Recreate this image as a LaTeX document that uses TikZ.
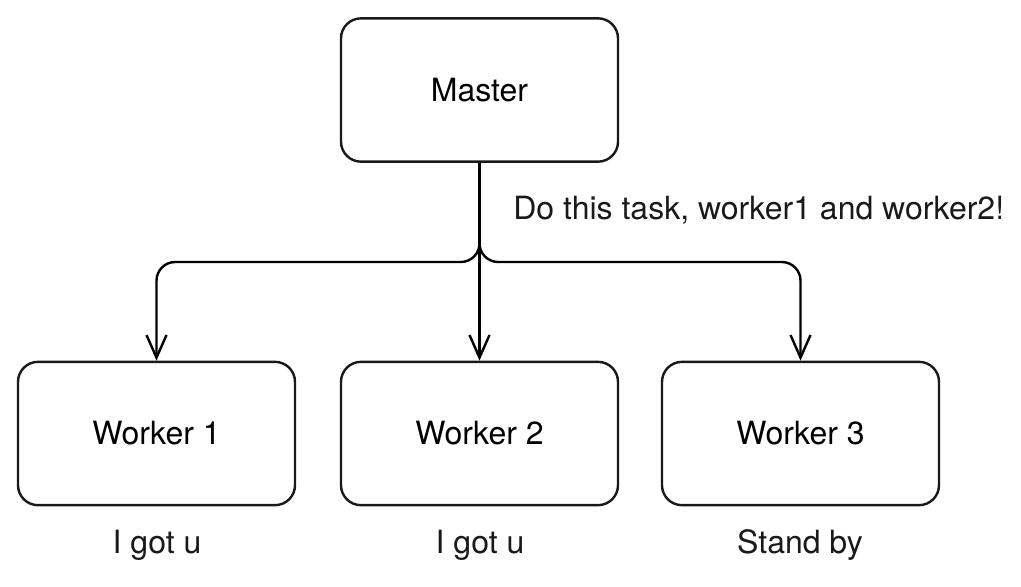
\documentclass[tikz,border=0pt]{standalone}
\usepackage{fontspec}
\setmainfont{TeX Gyre Heros}
\usetikzlibrary{arrows.meta}
\begin{document}
\begin{tikzpicture}[x=0.75pt,y=-0.75pt,
  box/.style={draw=black!90, line width=1.8pt, rounded corners=15pt, minimum width=207.75pt, minimum height=107.5pt, inner sep=0pt, font=\fontsize{24}{28}\selectfont},
  lbl/.style={inner sep=0pt, font=\fontsize{24}{28}\selectfont, text=black!90},
  conn/.style={draw=black, line width=1.8pt, rounded corners=14pt, -{Straight Barb[length=17pt,width=15pt,line width=1.8pt]}}]
\useasboundingbox (0,0) rectangle (1021,586);
\node[box] (m) at (479.5,90) {Master};
\node[box] (w1) at (156.5,433.5) {Worker 1};
\node[box] (w2) at (479.5,433.5) {Worker 2};
\node[box] (w3) at (800.5,433.5) {Worker 3};
\coordinate (j) at (479.5,262);
\draw[conn] (m.south) -- (j) -- (w1.north |- j) -- (w1.north);
\draw[conn] (m.south) -- (j) -- (w3.north |- j) -- (w3.north);
\draw[conn] (m.south) -- (w2.north);
\node[lbl, anchor=west] (t) at (513,210) {Do this task, worker1 and worker2!};
\node[lbl] (l1) at (157,545) {I got u};
\node[lbl] (l2) at (480,545) {I got u};
\node[lbl] (l3) at (800,545) {Stand by};
\end{tikzpicture}
\end{document}
